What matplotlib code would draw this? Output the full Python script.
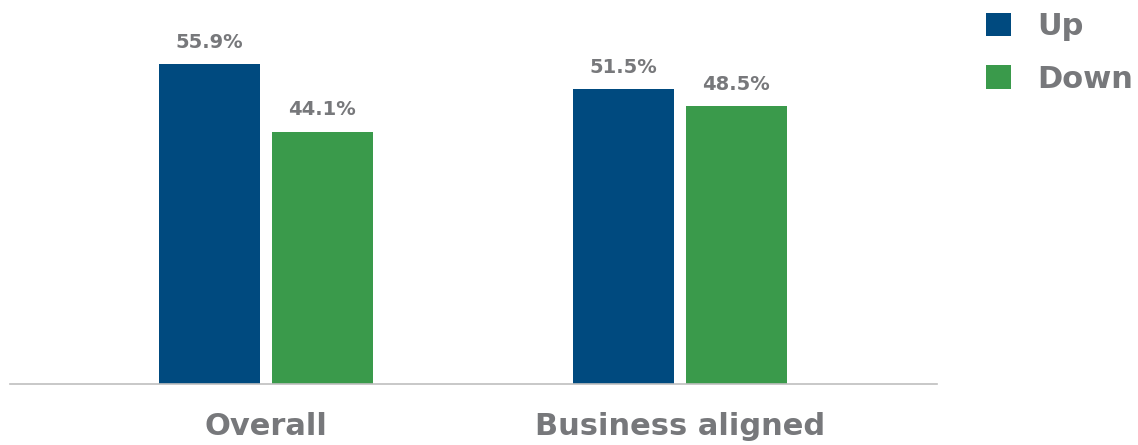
import matplotlib.pyplot as plt
import numpy as np

categories = ["Overall", "Business aligned"]
up_values = [55.9, 51.5]
down_values = [44.1, 48.5]
series_labels = ["Up", "Down"]

BLUE = "#004A7F"
GREEN = "#3A9A4B"
GRAY = "#77787B"

plt.rcParams["font.family"] = ["DejaVu Sans"]

fig = plt.figure(figsize=(11.38, 4.45), dpi=100)
ax = fig.add_axes([10 / 1138, 61 / 445, 927 / 1138, 384 / 445])

x = np.arange(len(categories))
width = 0.244
offset = 0.1365

bars_up = ax.bar(x - offset, up_values, width, color=BLUE, label=series_labels[0])
bars_down = ax.bar(x + offset, down_values, width, color=GREEN, label=series_labels[1])

for bars in (bars_up, bars_down):
    for b in bars:
        ax.text(b.get_x() + b.get_width() / 2, b.get_height() + 2.2, f"{b.get_height():.1f}%",
                ha="center", va="bottom", fontsize=14, fontweight="bold", color=GRAY)

ax.set_xlim(-0.618, 1.621)
ax.set_ylim(0, 67.1)
ax.set_yticks([])
ax.set_xticks(x)
ax.set_xticklabels(categories, fontsize=22, fontweight="bold", color=GRAY)
ax.tick_params(axis="x", length=0, pad=20)
for side in ("top", "right", "left"):
    ax.spines[side].set_visible(False)
ax.spines["bottom"].set_color("#BFBFBF")
ax.spines["bottom"].set_linewidth(1.2)

leg = fig.legend(handles=[bars_up, bars_down], labels=series_labels,
                 loc="upper left", bbox_to_anchor=(980 / 1138, 1 - 6 / 445),
                 frameon=False, fontsize=22, handlelength=0.82, handleheight=0.82,
                 handletextpad=0.85, labelspacing=0.78, borderaxespad=0, borderpad=0.2)
for t in leg.get_texts():
    t.set_color(GRAY)
    t.set_fontweight("bold")

fig.savefig("out.png", dpi=100)
